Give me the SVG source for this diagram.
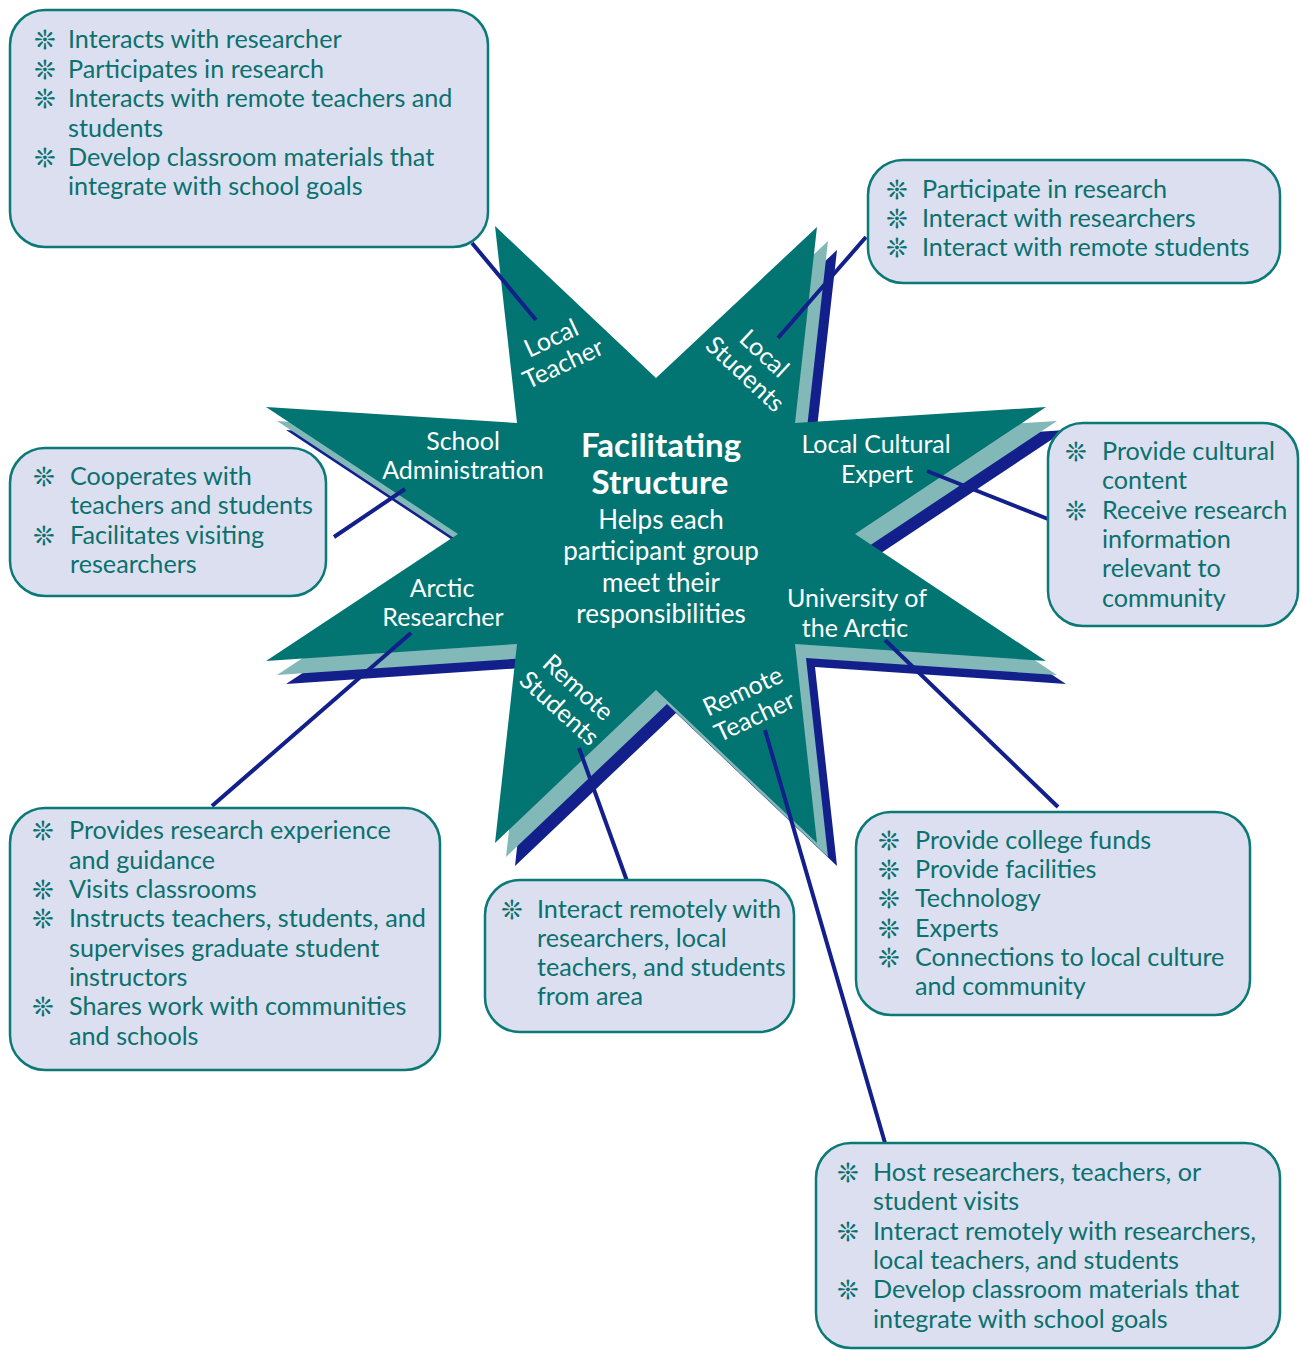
<svg xmlns="http://www.w3.org/2000/svg" width="1302" height="1350" viewBox="0 0 1302 1350">
<defs>
<style>
.box{fill:#dcdff0;stroke:#0b7a76;stroke-width:2.5}
.bt{font-family:Lato,"Open Sans",sans-serif;font-size:25.2px;fill:#0a716e}
.bu{font-family:"DejaVu Sans",sans-serif;font-size:26px;fill:#0a716e;text-anchor:middle}
.lbl{font-family:Lato,"Open Sans",sans-serif;font-size:25px;fill:#ffffff;text-anchor:middle}
.ttl{font-family:Lato,"Open Sans",sans-serif;font-size:33px;font-weight:700;fill:#ffffff;text-anchor:middle}
.sub{font-family:Lato,"Open Sans",sans-serif;font-size:26px;fill:#ffffff;text-anchor:middle}
.con{stroke:#13208b;stroke-width:4;fill:none}
</style>
<path id="star" d="M495,226 L656,378 L817,227 L795,423 L1046,407 L855,534 L1046,661 L795,644 L817,843 L656,690 L495,843 L517,644 L266,661 L458,534 L266,407 L517,423 Z"/>
</defs>
<g id="star-shape">
<use href="#star" transform="translate(20,23)" fill="#13208b"/>
<use href="#star" transform="translate(11,14)" fill="#82b9b8"/>
<use href="#star" fill="#027572"/>
</g>
<g id="connectors">
<line class="con" x1="472" y1="243" x2="536" y2="320"/>
<line class="con" x1="866" y1="237" x2="778" y2="338"/>
<line class="con" x1="405" y1="489" x2="334" y2="537"/>
<line class="con" x1="927" y1="471" x2="1048" y2="519"/>
<line class="con" x1="411" y1="633" x2="212" y2="806"/>
<line class="con" x1="579" y1="748" x2="627" y2="881"/>
<line class="con" x1="885" y1="640" x2="1058" y2="807"/>
<line class="con" x1="765" y1="730" x2="885" y2="1143"/>
</g>
<g id="center">
<text class="ttl" x="661" y="457">Facilitating</text>
<text class="ttl" x="660" y="494">Structure</text>
<text class="sub" x="661" y="529">Helps each</text>
<text class="sub" x="661" y="560">participant group</text>
<text class="sub" x="661" y="592">meet their</text>
<text class="sub" x="661" y="623">responsibilities</text>
</g>
<g id="label-local-teacher" transform="translate(557,350.5) rotate(-25)">
<text class="lbl" x="0" y="-5">Local</text>
<text class="lbl" x="0" y="23">Teacher</text>
</g>
<g id="label-local-students" transform="translate(755,363.5) rotate(43)">
<text class="lbl" x="0" y="-5">Local</text>
<text class="lbl" x="0" y="23">Students</text>
</g>
<g id="label-school-admin">
<text class="lbl" x="463" y="450">School</text>
<text class="lbl" x="463" y="479">Administration</text>
</g>
<g id="label-cultural">
<text class="lbl" x="876" y="453">Local Cultural</text>
<text class="lbl" x="877" y="483">Expert</text>
</g>
<g id="label-arctic-researcher">
<text class="lbl" x="442" y="597">Arctic</text>
<text class="lbl" x="443" y="626">Researcher</text>
</g>
<g id="label-university">
<text class="lbl" x="857" y="607">University of</text>
<text class="lbl" x="855" y="637">the Arctic</text>
</g>
<g id="label-remote-students" transform="translate(569,697.5) rotate(42)">
<text class="lbl" x="0" y="-5">Remote</text>
<text class="lbl" x="0" y="23">Students</text>
</g>
<g id="label-remote-teacher" transform="translate(748.5,703.5) rotate(-25)">
<text class="lbl" x="0" y="-5">Remote</text>
<text class="lbl" x="0" y="23">Teacher</text>
</g>
<g id="box-local-teacher">
<rect class="box" x="10" y="10" width="478" height="237" rx="35"/>
<text class="bu" x="45" y="49">❊</text>
<text class="bt" x="68" y="48">Interacts with researcher</text>
<text class="bu" x="45" y="79">❊</text>
<text class="bt" x="68" y="78">Participates in research</text>
<text class="bu" x="45" y="108">❊</text>
<text class="bt" x="68" y="107">Interacts with remote teachers and</text>
<text class="bt" x="68" y="137">students</text>
<text class="bu" x="45" y="167">❊</text>
<text class="bt" x="68" y="166">Develop classroom materials that</text>
<text class="bt" x="68" y="195">integrate with school goals</text>
</g>
<g id="box-local-students">
<rect class="box" x="868" y="160" width="412" height="123" rx="35"/>
<text class="bu" x="897" y="199">❊</text>
<text class="bt" x="922" y="198">Participate in research</text>
<text class="bu" x="897" y="228">❊</text>
<text class="bt" x="922" y="227">Interact with researchers</text>
<text class="bu" x="897" y="257">❊</text>
<text class="bt" x="922" y="256">Interact with remote students</text>
</g>
<g id="box-school-admin">
<rect class="box" x="10" y="448" width="316" height="148" rx="35"/>
<text class="bu" x="44" y="486">❊</text>
<text class="bt" x="70" y="485">Cooperates with</text>
<text class="bt" x="70" y="514">teachers and students</text>
<text class="bu" x="44" y="545">❊</text>
<text class="bt" x="70" y="544">Facilitates visiting</text>
<text class="bt" x="70" y="573">researchers</text>
</g>
<g id="box-cultural-expert">
<rect class="box" x="1048" y="423" width="250" height="203" rx="35"/>
<text class="bu" x="1076" y="461">❊</text>
<text class="bt" x="1102" y="460">Provide cultural</text>
<text class="bt" x="1102" y="489">content</text>
<text class="bu" x="1076" y="520">❊</text>
<text class="bt" x="1102" y="519">Receive research</text>
<text class="bt" x="1102" y="548">information</text>
<text class="bt" x="1102" y="577">relevant to</text>
<text class="bt" x="1102" y="607">community</text>
</g>
<g id="box-arctic-researcher">
<rect class="box" x="10" y="808" width="430" height="262" rx="35"/>
<text class="bu" x="43" y="840">❊</text>
<text class="bt" x="69" y="839">Provides research experience</text>
<text class="bt" x="69" y="869">and guidance</text>
<text class="bu" x="43" y="899">❊</text>
<text class="bt" x="69" y="898">Visits classrooms</text>
<text class="bu" x="43" y="928">❊</text>
<text class="bt" x="69" y="927">Instructs teachers, students, and</text>
<text class="bt" x="69" y="957">supervises graduate student</text>
<text class="bt" x="69" y="986">instructors</text>
<text class="bu" x="43" y="1016">❊</text>
<text class="bt" x="69" y="1015">Shares work with communities</text>
<text class="bt" x="69" y="1045">and schools</text>
</g>
<g id="box-remote-students">
<rect class="box" x="485" y="880" width="309" height="152" rx="35"/>
<text class="bu" x="512" y="919">❊</text>
<text class="bt" x="537" y="918">Interact remotely with</text>
<text class="bt" x="537" y="947">researchers, local</text>
<text class="bt" x="537" y="976">teachers, and students</text>
<text class="bt" x="537" y="1005">from area</text>
</g>
<g id="box-university">
<rect class="box" x="856" y="812" width="394" height="203" rx="35"/>
<text class="bu" x="889" y="850">❊</text>
<text class="bt" x="915" y="849">Provide college funds</text>
<text class="bu" x="889" y="879">❊</text>
<text class="bt" x="915" y="878">Provide facilities</text>
<text class="bu" x="889" y="908">❊</text>
<text class="bt" x="915" y="907">Technology</text>
<text class="bu" x="889" y="938">❊</text>
<text class="bt" x="915" y="937">Experts</text>
<text class="bu" x="889" y="967">❊</text>
<text class="bt" x="915" y="966">Connections to local culture</text>
<text class="bt" x="915" y="995">and community</text>
</g>
<g id="box-remote-teacher">
<rect class="box" x="816" y="1143" width="464" height="205" rx="35"/>
<text class="bu" x="848" y="1182">❊</text>
<text class="bt" x="873" y="1181">Host researchers, teachers, or</text>
<text class="bt" x="873" y="1210">student visits</text>
<text class="bu" x="848" y="1241">❊</text>
<text class="bt" x="873" y="1240">Interact remotely with researchers,</text>
<text class="bt" x="873" y="1269">local teachers, and students</text>
<text class="bu" x="848" y="1299">❊</text>
<text class="bt" x="873" y="1298">Develop classroom materials that</text>
<text class="bt" x="873" y="1328">integrate with school goals</text>
</g>
</svg>
